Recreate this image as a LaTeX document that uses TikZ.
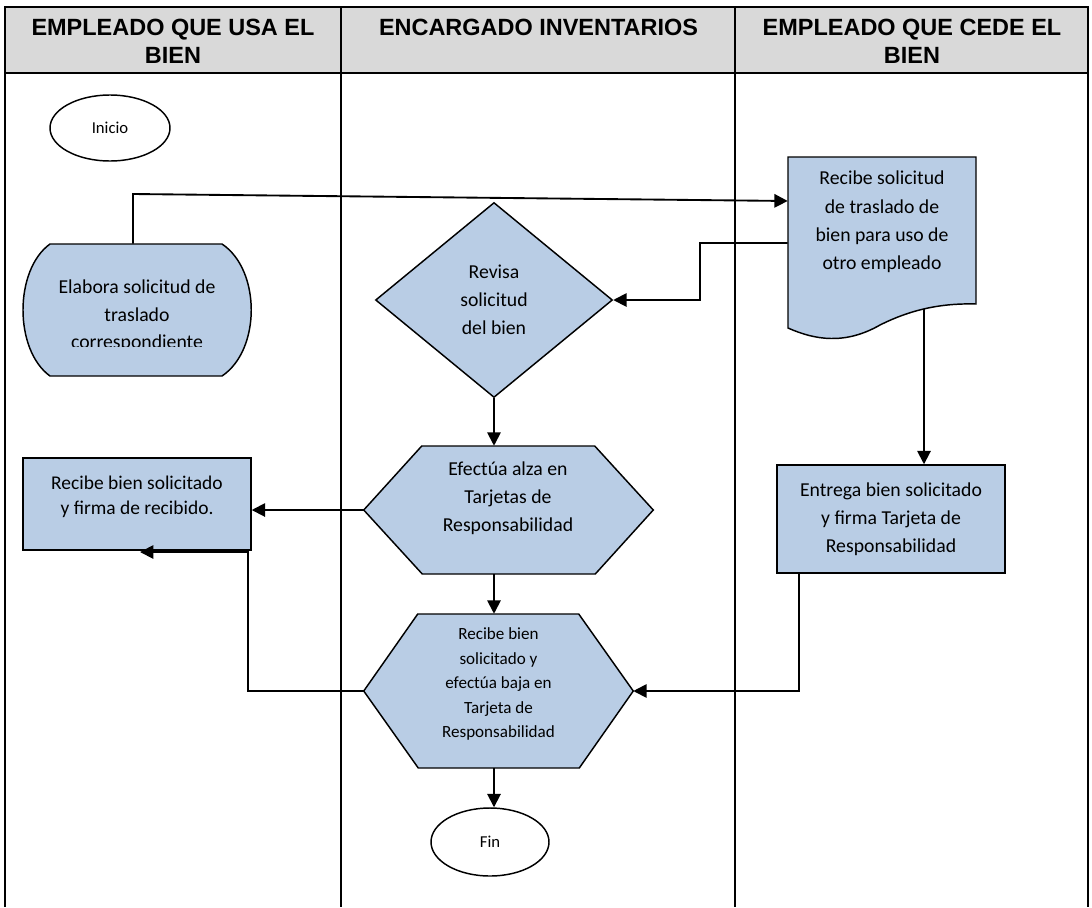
\documentclass[tikz,border=0pt]{standalone}
\usepackage{fontspec}
\setmainfont{Carlito}
\newfontfamily\headfont{Liberation Sans}
\usetikzlibrary{shapes.geometric,arrows.meta,calc}
\definecolor{boxblue}{HTML}{B9CDE5}
\definecolor{headgray}{HTML}{D9D9D9}
\begin{document}
\begin{tikzpicture}[x=0.75pt,y=-0.75pt,
  gridthick/.style={line width=1.5pt},
  gridthin/.style={line width=0.8pt},
  shapeline/.style={draw=black,line width=1.1pt,fill=boxblue},
  conn/.style={line width=1.4pt,-{Triangle[length=10pt,width=10pt]}},
  bodytext/.style={font=\fontsize{14.8}{21.2}\selectfont,align=center,inner sep=0pt},
  smalltext/.style={font=\fontsize{12.8}{18.4}\selectfont,align=center,inner sep=0pt},
  headtext/.style={font=\headfont\bfseries\fontsize{17.6}{21}\selectfont,align=center,inner sep=0pt,anchor=north},
  anchorbox/.style={rectangle,draw=none,inner sep=0pt},
  terminal/.style={ellipse,draw=black,line width=1.1pt,inner sep=0pt,font=\fontsize{12.5}{15}\selectfont},
]
\useasboundingbox (0,0) rectangle (1092,907);

% ---- table grid ----
\fill[headgray] (5,7) rectangle (1088,73);
\draw[gridthick] (5,7) -- (1088,7);
\draw[gridthick] (5,73) -- (1088,73);
\draw[gridthick] (5,6) -- (5,907);
\draw[gridthick] (341,7) -- (341,907);
\draw[gridthin] (735,7) -- (735,907);
\draw[gridthick] (1088,6) -- (1088,907);

\node[headtext] (h1) at (173,19) {EMPLEADO QUE USA EL\\BIEN};
\node[headtext] (h2) at (538.5,19) {ENCARGADO INVENTARIOS};
\node[headtext] (h3) at (912,19) {EMPLEADO QUE CEDE EL\\BIEN};

% ---- Inicio ----
\node[terminal,minimum width=90pt,minimum height=49.5pt] (ini) at (110,128) {Inicio};

% ---- Elabora solicitud ----
\node[anchorbox,minimum width=171pt,minimum height=99pt] (elab) at (137,310) {};
\path[shapeline] (50,244) -- (222,244) .. controls (261,270) and (261,350) .. (222,376)
  -- (50,376) .. controls (14,350) and (14,270) .. (50,244) -- cycle;
\begin{scope}
  \clip (20,240) rectangle (255,346);
  \node[bodytext,font=\fontsize{14.8}{20.6}\selectfont] (elabt) at (137,316) {Elabora solicitud de\\traslado\\correspondiente};
\end{scope}

% ---- Recibe solicitud (document) ----
\node[anchorbox,minimum width=141pt,minimum height=110.25pt] (doc) at (882,230.5) {};
\path[shapeline] (788,157) -- (976,157) -- (976,304)
  .. controls (940,303) and (910,310) .. (880,325)
  .. controls (845,345) and (815,340) .. (788,328) -- cycle;
\node[bodytext] (doct) at (882,222) {Recibe solicitud\\de traslado de\\bien para uso de\\otro empleado};

% ---- Revisa (decision) ----
\node[diamond,shapeline,bodytext,minimum width=177.75pt,minimum height=146.25pt] (rev) at (494,300) {Revisa\\solicitud\\del bien};

% ---- Efectua alza (hexagon) ----
\node[anchorbox,minimum width=216.75pt,minimum height=96pt] (alza) at (508.5,510) {};
\path[shapeline] (alza.west) -- ++(58,-64) -- ++(173,0) -- (alza.east) -- ++(-58,64) -- ++(-173,0) -- cycle;
\node[bodytext] (alzat) at (508,498) {Efectúa alza en\\Tarjetas de\\Responsabilidad};

% ---- Recibe bien solicitado (left) ----
\node[rectangle,shapeline,inner sep=0pt,minimum width=171pt,minimum height=69pt] (recb) at (137,504) {};
\node[bodytext,font=\fontsize{14.6}{18.8}\selectfont] (recbt) at (137,497) {Recibe bien solicitado\\y firma de recibido.};

% ---- Entrega bien solicitado (right) ----
\node[rectangle,shapeline,bodytext,minimum width=171pt,minimum height=81pt] (entr) at (891,519) {Entrega bien solicitado\\y firma Tarjeta de\\Responsabilidad};

% ---- Recibe bien y efectua baja (hexagon) ----
\node[anchorbox,minimum width=201.75pt,minimum height=115.5pt] (reci) at (498.5,691) {};
\path[shapeline] (reci.west) -- ++(54,-77) -- ++(161,0) -- (reci.east) -- ++(-54,77) -- ++(-161,0) -- cycle;
\node[smalltext] (recit) at (498.5,684) {Recibe bien\\solicitado y\\efectúa baja en\\Tarjeta de\\Responsabilidad};

% ---- Fin ----
\node[terminal,minimum width=88.5pt,minimum height=51pt] (fin) at (490,842) {Fin};

% ---- connectors ----
\coordinate (c1) at (133,194);
\draw[conn] (elab.north -| c1) -- (c1) -- ($(doc.north west)!0.3!(doc.south west)$);
\coordinate (c2) at (700,243);
\draw[conn] ($(doc.north west)!0.585!(doc.south west)$) -- (c2) |- (rev.east);
\draw[conn] (rev.south) -- (rev.south |- alza.north);
\draw[conn] (alza.west) -- (alza.west -| recb.east);
\draw[conn] (alza.south -| rev.south) -- (reci.north -| rev.south);
\coordinate (c3) at (924,309);
\draw[conn] (c3) -- (c3 |- entr.north);
\coordinate (c4) at (799,691);
\draw[conn] (entr.south -| c4) -- (c4) -- (reci.east);
\coordinate (c5) at (248,691);
\coordinate (c6) at (248,552);
\coordinate (c7) at (140,552);
\draw[conn] (reci.west) -- (c5) -- (c6) -- (c7);
\draw[conn] (reci.south -| rev.south) -- (fin.north -| rev.south);
\end{tikzpicture}
\end{document}
